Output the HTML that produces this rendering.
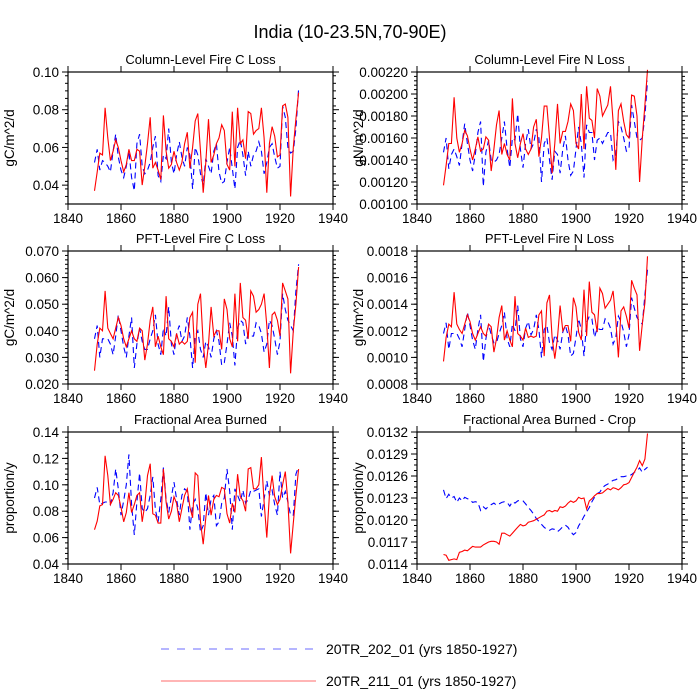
<!DOCTYPE html>
<html><head><meta charset="utf-8"><style>
body{margin:0;background:#fff;}
svg{display:block;font-family:"Liberation Sans",sans-serif;}
</style></head><body>
<svg id="chart" width="700" height="700" viewBox="0 0 700 700">
<text x="350" y="38" text-anchor="middle" font-size="18" fill="#000">India (10-23.5N,70-90E)</text>
<g>
<line x1="161" y1="649" x2="316" y2="649" stroke="#6b6bff" stroke-width="1" stroke-dasharray="8,8"/>
<text x="326" y="654" font-size="14">20TR_202_01 (yrs 1850-1927)</text>
<line x1="161" y1="681" x2="316" y2="681" stroke="#ff6b6b" stroke-width="1"/>
<text x="326" y="686" font-size="14">20TR_211_01 (yrs 1850-1927)</text>
</g>
</svg>
<script>
const startYear = 1850;
const xTicks = [1840,1860,1880,1900,1920,1940];
const p1Red = [.037,.047,.057,.056,.081,.065,.053,.058,.064,.060, .053,.047,.051,.059,.053,.053,.059,.058,.040,.050, .062,.076,.049,.052,.048,.043,.077,.058,.049,.051, .058,.052,.048,.052,.062,.068,.049,.060,.074,.078, .058,.036,.052,.075,.052,.056,.062,.065,.072,.069, .051,.048,.079,.050,.081,.062,.064,.054,.079,.078, .067,.069,.070,.081,.065,.036,.062,.071,.066,.055, .056,.082,.083,.076,.034,.060,.075,.089];
const p1Blue = [.052,.059,.048,.053,.052,.050,.047,.058,.067,.055, .048,.044,.050,.058,.044,.037,.062,.067,.050,.046, .048,.052,.060,.066,.045,.042,.056,.054,.070,.052, .046,.056,.063,.055,.050,.060,.056,.038,.060,.056, .046,.040,.054,.050,.046,.058,.062,.047,.041,.042, .052,.060,.049,.038,.060,.064,.056,.045,.058,.050, .056,.058,.063,.058,.046,.052,.060,.062,.055,.049, .050,.082,.076,.060,.057,.058,.070,.091];
const p1Ticks = ["0.04","0.06","0.08","0.10"];
const p2Red = [.00117,.00135,.00155,.00155,.00197,.00160,.00147,.00155,.00167,.00162, .00150,.00140,.00150,.00161,.00148,.00150,.00161,.00158,.00130,.00150, .00172,.00185,.00145,.00155,.00145,.00140,.00196,.00155,.00142,.00155, .00164,.00150,.00145,.00150,.00170,.00177,.00143,.00160,.00189,.00189, .00160,.00128,.00155,.00191,.00155,.00166,.00166,.00175,.00191,.00185, .00155,.00150,.00200,.00150,.00207,.00178,.00176,.00160,.00205,.00198, .00180,.00185,.00190,.00207,.00175,.00131,.00185,.00191,.00175,.00163, .00160,.00199,.00198,.00180,.00120,.00160,.00190,.00222];
const p2Blue = [.00147,.00160,.00132,.00145,.00150,.00143,.00135,.00155,.00173,.00155, .00140,.00130,.00145,.00165,.00175,.00116,.00147,.00158,.00140,.00138, .00140,.00145,.00160,.00175,.00150,.00133,.00160,.00158,.00182,.00150, .00133,.00155,.00168,.00150,.00155,.00168,.00160,.00120,.00155,.00160, .00140,.00122,.00148,.00145,.00128,.00150,.00162,.00140,.00126,.00130, .00150,.00170,.00155,.00124,.00172,.00165,.00165,.00140,.00158,.00160, .00155,.00160,.00165,.00165,.00140,.00145,.00175,.00170,.00160,.00148, .00150,.00190,.00175,.00160,.00158,.00160,.00180,.00212];
const p2Ticks = ["0.00100","0.00120","0.00140","0.00160","0.00180","0.00200","0.00220"];
const p3Red = [.025,.035,.041,.040,.055,.041,.039,.037,.041,.045, .042,.037,.034,.037,.040,.037,.036,.041,.040,.029, .035,.044,.049,.034,.038,.034,.031,.053,.037,.036, .034,.039,.035,.036,.035,.036,.045,.047,.028,.050, .054,.035,.026,.035,.049,.038,.040,.040,.033,.052, .048,.037,.034,.054,.036,.058,.045,.044,.037,.055, .053,.047,.048,.050,.054,.042,.026,.046,.047,.044, .038,.058,.055,.052,.024,.040,.050,.064];
const p3Blue = [.037,.042,.030,.037,.037,.037,.035,.031,.038,.046, .040,.034,.030,.038,.045,.026,.035,.041,.036,.033, .033,.037,.040,.046,.035,.031,.041,.038,.049,.035, .031,.039,.042,.036,.038,.045,.038,.026,.038,.040, .033,.030,.036,.034,.030,.037,.040,.036,.027,.028, .035,.043,.038,.027,.041,.044,.043,.035,.039,.038, .038,.043,.042,.039,.032,.035,.044,.042,.037,.031, .036,.054,.048,.044,.042,.040,.055,.065];
const p3Ticks = ["0.020","0.030","0.040","0.050","0.060","0.070"];
const p4Red = [.00097,.00115,.00125,.00123,.00149,.00125,.00121,.00118,.00125,.00132, .00127,.00118,.00113,.00118,.00123,.00118,.00116,.00125,.00123,.00104, .00114,.00130,.00139,.00113,.00120,.00113,.00108,.00146,.00118,.00116, .00113,.00122,.00115,.00116,.00115,.00116,.00132,.00135,.00101,.00141, .00147,.00115,.00099,.00115,.00139,.00120,.00124,.00124,.00112,.00145, .00138,.00119,.00113,.00151,.00116,.00157,.00134,.00132,.00119,.00152, .00148,.00137,.00140,.00143,.00150,.00128,.00100,.00135,.00138,.00131, .00122,.00158,.00152,.00147,.00105,.00125,.00141,.00176];
const p4Blue = [.00118,.00126,.00106,.00118,.00118,.00118,.00114,.00108,.00121,.00134, .00124,.00113,.00106,.00121,.00132,.00097,.00114,.00125,.00117,.00111, .00111,.00118,.00124,.00134,.00114,.00108,.00125,.00120,.00139,.00114, .00108,.00122,.00127,.00117,.00121,.00132,.00121,.00100,.00121,.00124, .00111,.00106,.00117,.00113,.00106,.00119,.00124,.00117,.00101,.00103, .00115,.00129,.00121,.00101,.00126,.00131,.00129,.00115,.00122,.00121, .00121,.00129,.00127,.00122,.00110,.00115,.00131,.00127,.00119,.00108, .00117,.00145,.00137,.00130,.00127,.00125,.00147,.00166];
const p4Ticks = ["0.0008","0.0010","0.0012","0.0014","0.0016","0.0018"];
const p5Red = [.066,.0725,.084,.085,.122,.107,.085,.089,.094,.092, .083,.072,.079,.094,.079,.085,.092,.094,.072,.085, .107,.116,.078,.077,.071,.071,.112,.087,.074,.080, .091,.086,.072,.082,.092,.097,.083,.075,.109,.107, .072,.055,.075,.092,.077,.089,.092,.091,.098,.097, .078,.071,.086,.079,.108,.091,.088,.080,.112,.113, .097,.097,.100,.121,.087,.060,.092,.107,.091,.085, .089,.100,.110,.087,.048,.071,.092,.112];
const p5Blue = [.090,.098,.085,.086,.087,.087,.085,.094,.112,.097, .077,.088,.100,.123,.085,.062,.087,.109,.082,.079, .082,.092,.106,.081,.072,.089,.113,.089,.079,.091, .102,.089,.077,.092,.097,.095,.066,.085,.089,.082, .064,.069,.094,.077,.089,.092,.069,.072,.086,.090, .112,.095,.066,.097,.092,.087,.096,.086,.089,.096, .095,.096,.097,.076,.089,.103,.092,.096,.085,.077, .110,.090,.095,.087,.077,.077,.108,.114];
const p5Ticks = ["0.04","0.06","0.08","0.10","0.12","0.14"];
const p6Red = [.01153,.01152,.01145,.01146,.01147,.01146,.01156,.01157,.01159,.01158, .01161,.01164,.01163,.01163,.01163,.01166,.01168,.01170,.01171,.01171, .01170,.01167,.01182,.01182,.01180,.01178,.01182,.01186,.01190,.01194, .01192,.01193,.01197,.01198,.01199,.01201,.01203,.01205,.01207,.01212, .01213,.01211,.01213,.01212,.01218,.01217,.01219,.01223,.01226,.01224, .01226,.01231,.01229,.01230,.01215,.01226,.01229,.01233,.01236,.01236, .01237,.01240,.01243,.01241,.01244,.01243,.01241,.01244,.01248,.01249, .01251,.01258,.01265,.01272,.01281,.01274,.01283,.01318];
const p6Blue = [.01241,.01229,.01235,.01230,.01232,.01224,.01230,.01226,.01231,.01229, .01228,.01224,.01225,.01224,.01213,.01218,.01215,.01219,.01221,.01223, .01220,.01222,.01224,.01225,.01224,.01219,.01225,.01223,.01226,.01227, .01226,.01222,.01217,.01213,.01208,.01202,.01198,.01194,.01190,.01187, .01186,.01188,.01187,.01184,.01187,.01191,.01193,.01190,.01184,.01180, .01183,.01192,.01198,.01205,.01211,.01217,.01225,.01231,.01236,.01238, .01244,.01247,.01249,.01252,.01254,.01255,.01257,.01259,.01259,.01260, .01260,.01262,.01265,.01267,.01271,.01265,.01269,.01272];
const p6Ticks = ["0.0114","0.0117","0.0120","0.0123","0.0126","0.0129","0.0132"];

const NS = "http://www.w3.org/2000/svg";
const svg = document.getElementById('chart');
function mk(tag, attrs, parent){
  const e = document.createElementNS(NS, tag);
  for (const k in attrs) e.setAttribute(k, attrs[k]);
  parent.appendChild(e); return e;
}
const panels = [
 {id:'col-c', title:'Column-Level Fire C Loss', ylab:'gC/m^2/d', x0:68, y0:72, y1:204, ymin:0.03, ymax:0.10, t0:0.04, ticks:p1Ticks, red:p1Red, blue:p1Blue, minor:4},
 {id:'col-n', title:'Column-Level Fire N Loss', ylab:'gN/m^2/d', x0:417, y0:72, y1:204, ymin:0.0010, ymax:0.0022, t0:0.0010, ticks:p2Ticks, red:p2Red, blue:p2Blue, minor:4},
 {id:'pft-c', title:'PFT-Level Fire C Loss', ylab:'gC/m^2/d', x0:68, y0:251, y1:384, ymin:0.02, ymax:0.07, t0:0.02, ticks:p3Ticks, red:p3Red, blue:p3Blue, minor:5},
 {id:'pft-n', title:'PFT-Level Fire N Loss', ylab:'gN/m^2/d', x0:417, y0:251, y1:384, ymin:0.0008, ymax:0.0018, t0:0.0008, ticks:p4Ticks, red:p4Red, blue:p4Blue, minor:4},
 {id:'area', title:'Fractional Area Burned', ylab:'proportion/y', x0:68, y0:432, y1:564, ymin:0.04, ymax:0.14, t0:0.04, ticks:p5Ticks, red:p5Red, blue:p5Blue, minor:4},
 {id:'area-crop', title:'Fractional Area Burned - Crop', ylab:'proportion/y', x0:417, y0:432, y1:564, ymin:0.0114, ymax:0.0132, t0:0.0114, ticks:p6Ticks, red:p6Red, blue:p6Blue, minor:3}
];
const W = 265;
panels.forEach(p => {
  const g = mk('g', {}, svg);
  
  
  const xs = yr => p.x0 + (yr - 1840) / 100 * W;
  const ys = v => p.y1 - (v - p.ymin) / (p.ymax - p.ymin) * (p.y1 - p.y0);
  const t = mk('text', {x: p.x0 + W/2, y: p.y0 - 8, 'text-anchor':'middle', 'font-size':13}, g);
  t.textContent = p.title;
  
  
  const cx = p.x0 - 54, cy = (p.y0+p.y1)/2;
  const yl = mk('text', {x: cx, y: cy, 'text-anchor':'middle', 'font-size':13.5, transform:`rotate(-90 ${cx} ${cy})`}, g);
  yl.textContent = p.ylab;
  
  
  xTicks.forEach(yr => {
    const x = xs(yr);
    mk('line', {x1:x, x2:x, y1:p.y1, y2:p.y1+6, stroke:'#000'}, g);
    mk('line', {x1:x, x2:x, y1:p.y0, y2:p.y0-6, stroke:'#000'}, g);
    const lt = mk('text', {x:x, y:p.y1+19, 'text-anchor':'middle', 'font-size':13.5}, g);
    lt.textContent = yr;
    
    
  });
  const n = p.ticks.length;
  const step = (p.ymax - p.t0) / (n - 1);
  const minorStep = step / (p.minor + 1);
  for (let v = p.ymin; v <= p.ymax + 1e-12; v += minorStep) {
    const ym = ys(v);
    mk('line', {x1:p.x0-3, x2:p.x0, y1:ym, y2:ym, stroke:'#000'}, g);
    mk('line', {x1:p.x0+W, x2:p.x0+W+3, y1:ym, y2:ym, stroke:'#000'}, g);
  }
  p.ticks.forEach((lab, i) => {
    const v = p.t0 + i * step;
    const y = ys(v);
    mk('line', {x1:p.x0-6, x2:p.x0, y1:y, y2:y, stroke:'#000'}, g);
    mk('line', {x1:p.x0+W, x2:p.x0+W+6, y1:y, y2:y, stroke:'#000'}, g);
    const lt = mk('text', {x:p.x0-9, y:y+5, 'text-anchor':'end', 'font-size':13.5}, g);
    lt.textContent = lab;
    
    
  });
  const pts = arr => arr.map((v, i) => xs(startYear + i).toFixed(1) + ',' + ys(v).toFixed(1)).join(' ');
  const bl = mk('polyline', {points: pts(p.blue), fill:'none', stroke:'#0000ff', 'stroke-width':1.1, 'stroke-dasharray':'6,4'}, g);
  
  
  const rl = mk('polyline', {points: pts(p.red), fill:'none', stroke:'#ff0000', 'stroke-width':1.1}, g);
  
  
  const fr = mk('rect', {x:p.x0, y:p.y0, width:W, height:p.y1-p.y0, fill:'none', stroke:'#000', 'stroke-width':1.2}, g);
  
  
});
</script>
</body></html>
